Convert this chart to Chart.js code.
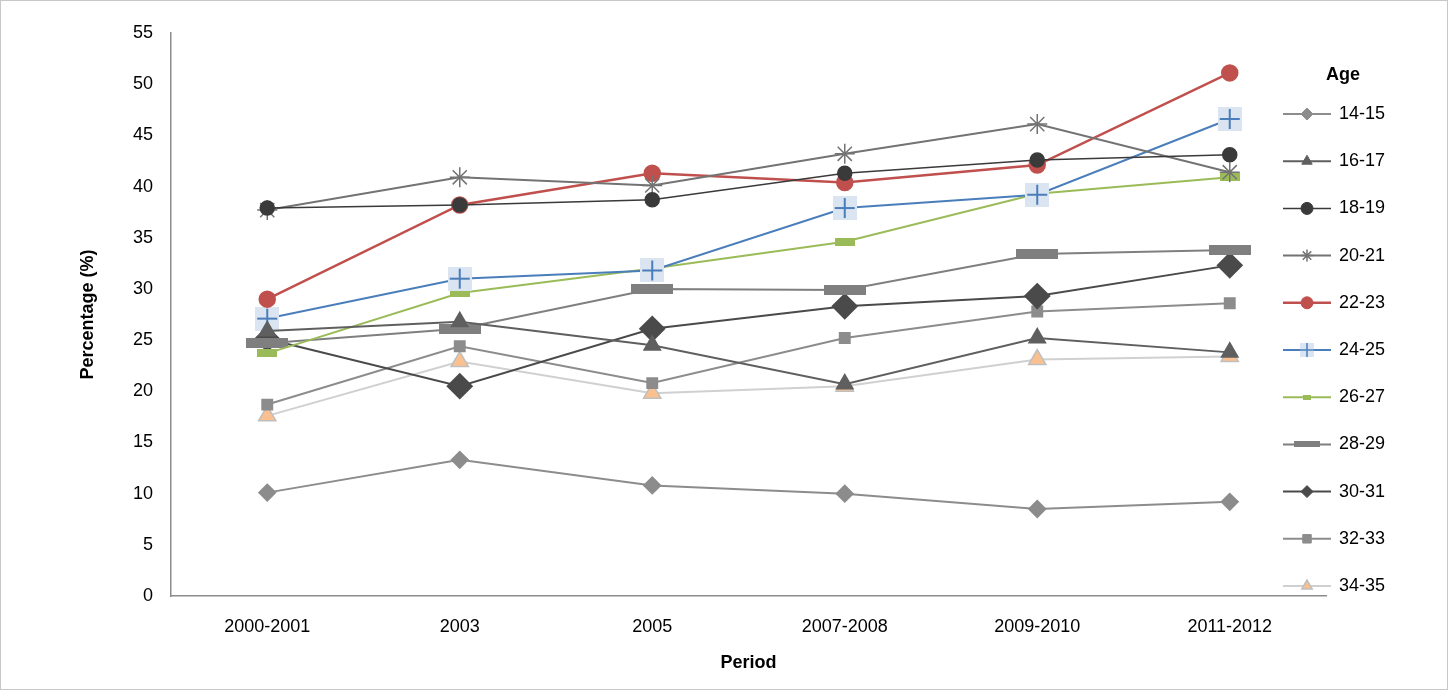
<!DOCTYPE html>
<html>
<head>
<meta charset="utf-8">
<script src="https://cdn.jsdelivr.net/npm/chart.js@4/dist/chart.umd.min.js"></script>
<style>
  html, body { margin: 0; padding: 0; background: #fff; }
  #wrap { position: relative; width: 1448px; height: 690px; box-sizing: border-box; border: 1px solid #c8c8c8; }
</style>
</head>
<body>
<div id="wrap"><canvas id="myChart"></canvas></div>
<script>
const periods = ["2000-2001", "2003", "2005", "2007-2008", "2009-2010", "2011-2012"];
const ages = ["14-15", "16-17", "18-19", "20-21", "22-23", "24-25", "26-27", "28-29", "30-31", "32-33", "34-35"];

const age14 = [10.1, 13.3, 10.8, 10.0, 8.5, 9.2];
const age16 = [25.9, 26.8, 24.5, 20.7, 25.2, 23.8];
const age18 = [37.9, 38.2, 38.7, 41.3, 42.6, 43.1];
const age20 = [37.7, 40.9, 40.1, 43.2, 46.1, 41.4];
const age22 = [29.0, 38.2, 41.3, 40.4, 42.1, 51.1];
const age24 = [27.1, 31.0, 31.8, 37.9, 39.2, 46.6];
const age26 = [23.7, 29.6, 32.0, 34.6, 39.3, 40.9];
const age28 = [24.7, 26.1, 30.0, 29.9, 33.4, 33.8];
const age30 = [25.1, 20.5, 26.1, 28.3, 29.3, 32.3];
const age32 = [18.7, 24.4, 20.8, 25.2, 27.8, 28.6];
const age34 = [17.6, 22.9, 19.8, 20.5, 23.1, 23.4];

function makeIcon(w, h, draw) {
  const c = document.createElement("canvas");
  c.width = w; c.height = h;
  draw(c.getContext("2d"), w, h);
  return c;
}
const plusIcon = makeIcon(24, 24, (g, w, h) => {
  g.fillStyle = "#dbe5f1"; g.fillRect(0, 0, w, h);
  g.strokeStyle = "#4a7ebb"; g.lineWidth = 2;
  g.beginPath(); g.moveTo(12, 2); g.lineTo(12, 22); g.moveTo(2, 12); g.lineTo(22, 12); g.stroke();
});
const greenBar = makeIcon(20, 8, (g, w, h) => { g.fillStyle = "#9bbb59"; g.fillRect(0, 0, w, h); });
const greyBar = makeIcon(42, 10, (g, w, h) => { g.fillStyle = "#7f7f7f"; g.fillRect(0, 0, w, h); });

function ds(label, data, color, style, radius, width, extra) {
  return Object.assign({
    label: label, data: data, borderColor: color, backgroundColor: color,
    pointBackgroundColor: color, pointBorderColor: color,
    pointStyle: style, pointRadius: radius, pointHoverRadius: radius,
    borderWidth: width, tension: 0
  }, extra || {});
}

const datasets = [
  ds("14-15", age14, "#8c8c8c", "rectRot", 8, 2),
  ds("16-17", age16, "#5f5f5f", "triangle", 9, 2),
  ds("18-19", age18, "#3a3a3a", "circle", 7, 1.5),
  ds("20-21", age20, "#737373", "star", 10, 2, { pointBorderWidth: 1.5 }),
  ds("22-23", age22, "#c0504d", "circle", 7.5, 2.5),
  ds("24-25", age24, "#4a7ebb", plusIcon, 12, 2),
  ds("26-27", age26, "#9bbb59", greenBar, 6, 2),
  ds("28-29", age28, "#7f7f7f", greyBar, 10, 2),
  ds("30-31", age30, "#4a4a4a", "rectRot", 12, 2),
  ds("32-33", age32, "#8c8c8c", "rect", 7, 2),
  ds("34-35", age34, "#d0d0d0", "triangle", 10, 2, { pointBackgroundColor: "#fac08f", pointBorderColor: "#bfbfbf", pointBorderWidth: 1.5 })
];

const legendPlugin = {
  id: "sideLegend",
  afterDraw(chart) {
    const g = chart.ctx;
    g.save();
    g.fillStyle = "#000";
    g.font = "bold 18px 'Liberation Sans', Arial, sans-serif";
    g.textBaseline = "middle";
    g.fillText("Age", 1325, 74);
    g.font = "18px 'Liberation Sans', Arial, sans-serif";
    chart.data.datasets.forEach((d, i) => {
      const y = 113 + i * 47.2;
      g.strokeStyle = d.borderColor;
      g.lineWidth = d.borderWidth;
      g.beginPath(); g.moveTo(1282, y); g.lineTo(1330, y); g.stroke();
      g.fillStyle = d.pointBackgroundColor;
      g.strokeStyle = d.pointBorderColor;
      g.lineWidth = d.pointBorderWidth || 1;
      const r = typeof d.pointStyle === "string" ? Math.min(d.pointRadius, 6) : d.pointRadius;
      let style = d.pointStyle;
      if (style === greyBar) style = makeIcon(26, 6, (c, w, h) => { c.fillStyle = "#7f7f7f"; c.fillRect(0, 0, w, h); });
      if (style === greenBar) style = makeIcon(8, 5, (c, w, h) => { c.fillStyle = "#9bbb59"; c.fillRect(0, 0, w, h); });
      if (style === plusIcon) style = makeIcon(14, 14, (c, w, h) => {
        c.fillStyle = "#dbe5f1"; c.fillRect(0, 0, w, h);
        c.strokeStyle = "#4a7ebb"; c.lineWidth = 1.5;
        c.beginPath(); c.moveTo(7, 0); c.lineTo(7, 14); c.moveTo(0, 7); c.lineTo(14, 7); c.stroke();
      });
      Chart.helpers.drawPoint(g, { pointStyle: style, radius: r, rotation: 0, borderWidth: d.pointBorderWidth || 1 }, 1306, y);
      g.fillStyle = "#000";
      g.fillText(d.label, 1338, y);
    });
    g.restore();
  }
};

const font = { family: "'Liberation Sans', Arial, sans-serif", size: 18 };
const ctx = document.getElementById("myChart");
const myChart = new Chart(ctx, {
  type: "line",
  data: { labels: periods, datasets: datasets },
  plugins: [legendPlugin],
  options: {
    responsive: true,
    maintainAspectRatio: false,
    animation: false,
    layout: { padding: { top: 32, right: 121, bottom: 0, left: 72 } },
    plugins: { legend: { display: false }, tooltip: { enabled: false } },
    scales: {
      x: {
        offset: true,
        afterFit(axis) { axis.height = 93; },
        grid: { display: false, drawTicks: false },
        border: { color: "#8c8c8c", width: 1.5 },
        ticks: { color: "#000", font: font, padding: 20 },
        title: { display: true, text: "Period", color: "#000", font: Object.assign({}, font, { weight: "bold" }), padding: { top: 2, bottom: 15 } }
      },
      y: {
        min: 0, max: 55,
        afterFit(axis) { axis.width = 98; },
        grid: { display: false, drawTicks: false },
        border: { color: "#8c8c8c", width: 1.5 },
        ticks: { stepSize: 5, color: "#000", font: font, padding: 18 },
        title: { display: true, text: "Percentage (%)", color: "#000", font: Object.assign({}, font, { weight: "bold" }) }
      }
    }
  }
});
</script>
</body>
</html>
